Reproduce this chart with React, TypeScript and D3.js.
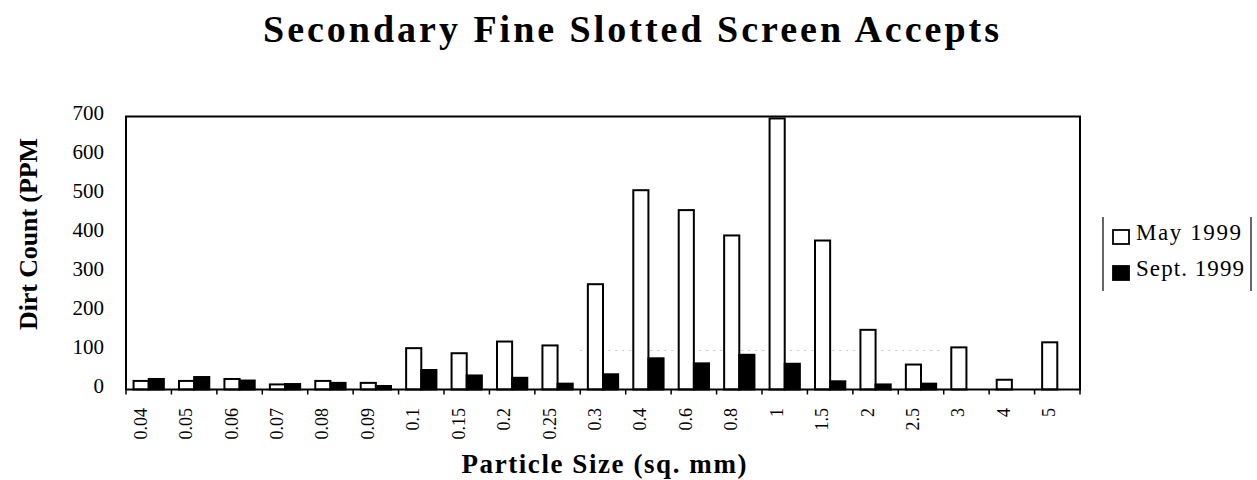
import React, { useRef, useEffect } from "react";
import { select, scaleBand, scaleLinear, axisLeft, axisBottom } from "d3";

// particle size classes (sq. mm)
const categories = [
  "0.04", "0.05", "0.06", "0.07", "0.08", "0.09", "0.1", "0.15", "0.2", "0.25", "0.3",
  "0.4", "0.6", "0.8", "1", "1.5", "2", "2.5", "3", "4", "5",
];
// dirt count, PPM
const may1999 = [22, 22, 27, 13, 22, 17, 106, 93, 123, 113, 270, 511, 460, 395, 695, 382, 153, 64, 108, 25, 121];
const sept1999 = [27, 32, 23, 14, 17, 9, 50, 36, 30, 15, 39, 80, 67, 89, 66, 21, 13, 15, 0, 0, 0];
const seriesNames = ["May 1999", "Sept. 1999"];
const yTicks = [0, 100, 200, 300, 400, 500, 600, 700];

const W = 1257;
const H = 480;
const FONT = "'Liberation Serif', 'Times New Roman', serif";

function App() {
  const svgRef = useRef<SVGSVGElement>(null);

  useEffect(() => {
    const svg = select(svgRef.current);
    svg.selectAll("*").remove();

    const left = 126, right = 1080, top = 116.5, bottom = 389.5;

    const x0 = scaleBand().domain(categories).range([left, right]).padding(0);
    const x1 = scaleBand().domain(seriesNames).range([0, x0.bandwidth()]).paddingOuter(0.5);
    const y = scaleLinear().domain([0, 700]).range([bottom, top]);

    // faint gridline left over in the scan
    svg.append("line")
      .attr("x1", x0("0.3")!).attr("x2", x0("3")!)
      .attr("y1", y(100)).attr("y2", y(100))
      .attr("stroke", "#c8c8c8").attr("stroke-dasharray", "2 5");

    // bars
    const rows = categories.map((c, i) => ({ c, vals: [may1999[i], sept1999[i]] }));
    const g = svg.append("g")
      .selectAll("g")
      .data(rows)
      .join("g")
      .attr("transform", d => `translate(${x0(d.c)},0)`);

    g.selectAll("rect")
      .data(d => d.vals.map((v, j) => ({ v, s: seriesNames[j] })).filter(e => e.v > 0))
      .join("rect")
      .attr("x", e => x1(e.s)!)
      .attr("width", x1.bandwidth())
      .attr("y", e => y(e.v))
      .attr("height", e => bottom - y(e.v))
      .attr("fill", e => (e.s === seriesNames[0] ? "#fff" : "#000"))
      .attr("stroke", "#000")
      .attr("stroke-width", 2);

    // plot frame
    svg.append("rect")
      .attr("x", left).attr("y", top)
      .attr("width", right - left).attr("height", bottom - top)
      .attr("fill", "none").attr("stroke", "#000").attr("stroke-width", 2);

    // ticks at category boundaries
    svg.append("g")
      .selectAll("line")
      .data(categories.concat(["end"]))
      .join("line")
      .attr("x1", (d, i) => left + i * x0.step())
      .attr("x2", (d, i) => left + i * x0.step())
      .attr("y1", bottom).attr("y2", bottom + 5)
      .attr("stroke", "#000").attr("stroke-width", 1.5);

    // y axis labels
    const ya = svg.append("g")
      .attr("transform", `translate(${left},0)`)
      .call(axisLeft(y).tickValues(yTicks).tickSize(0).tickPadding(22));
    ya.select(".domain").remove();
    ya.selectAll("text")
      .attr("dy", "0.32em").attr("y", -4)
      .style("font-family", FONT).style("font-size", "21px").attr("fill", "#000");

    // x axis labels, rotated
    const xa = svg.append("g")
      .attr("transform", `translate(0,${bottom})`)
      .call(axisBottom(x0).tickSize(0));
    xa.select(".domain").remove();
    xa.selectAll("text")
      .attr("transform", "rotate(-90)")
      .attr("text-anchor", "end")
      .attr("x", -18.5).attr("y", -2).attr("dy", "0")
      .style("font-family", FONT).style("font-size", "18px").attr("fill", "#000");

    // titles
    svg.append("text")
      .attr("x", 631).attr("y", 42)
      .attr("text-anchor", "middle")
      .attr("textLength", 736).attr("lengthAdjust", "spacing")
      .style("font-family", FONT).style("font-size", "38px").style("font-weight", "bold")
      .text("Secondary Fine Slotted Screen Accepts");

    svg.append("text")
      .attr("x", 604).attr("y", 473)
      .attr("text-anchor", "middle")
      .attr("textLength", 285).attr("lengthAdjust", "spacing")
      .style("font-family", FONT).style("font-size", "27px").style("font-weight", "bold")
      .text("Particle Size (sq. mm)");

    svg.append("text")
      .attr("transform", "translate(37,234) rotate(-90)")
      .attr("text-anchor", "middle")
      .attr("textLength", 192).attr("lengthAdjust", "spacing")
      .style("font-family", FONT).style("font-size", "26px").style("font-weight", "bold")
      .text("Dirt Count (PPM");

    // legend
    const lg = svg.append("g");
    [1103, 1251].forEach(lx =>
      lg.append("line")
        .attr("x1", lx).attr("x2", lx).attr("y1", 217).attr("y2", 291)
        .attr("stroke", "#000").attr("stroke-width", 1.2)
    );
    const item = lg.selectAll("g.item")
      .data(seriesNames)
      .join("g")
      .attr("class", "item")
      .attr("transform", (d, i) => `translate(0,${i * 36})`);
    item.append("rect")
      .attr("x", 1113).attr("y", 230).attr("width", 16).attr("height", 14)
      .attr("fill", (d, i) => (i === 0 ? "#fff" : "#000"))
      .attr("stroke", "#000").attr("stroke-width", 1.8);
    item.append("text")
      .attr("x", 1136).attr("y", 240)
      .attr("textLength", (d, i) => (i === 0 ? 105 : 108)).attr("lengthAdjust", "spacing")
      .style("font-family", FONT).style("font-size", "23px")
      .text(d => d);
  }, []);

  return (
    <div style={{ position: "absolute", left: 0, top: 0 }}>
      <svg ref={svgRef} width={W} height={H} style={{ display: "block", background: "#fff" }}></svg>
    </div>
  );
}

export default App;
